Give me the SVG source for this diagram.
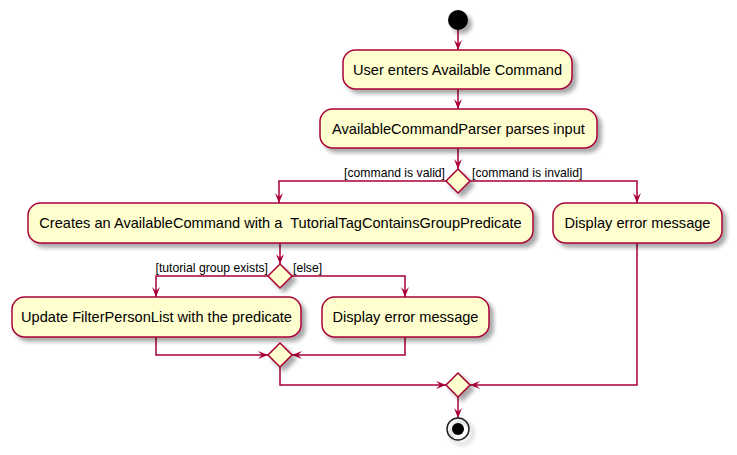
<svg xmlns="http://www.w3.org/2000/svg" width="737" height="455" viewBox="0 0 737 455">
<style>
.box{fill:#FEFECE;stroke:#A80036;stroke-width:1.5;filter:url(#sh)}
.dia{fill:#FEFECE;stroke:#A80036;stroke-width:1.5;filter:url(#sh)}
.t{font-family:"Liberation Sans",Arial,sans-serif;font-size:14.6px;fill:#000;text-anchor:middle;white-space:pre}
.l{font-family:"Liberation Sans",Arial,sans-serif;font-size:12.2px;fill:#000}
.c{fill:none;stroke:#A80036;stroke-width:1.5;marker-end:url(#ah)}
</style>
<defs>
<filter id="sh" x="-20%" y="-20%" width="150%" height="160%">
<feGaussianBlur in="SourceAlpha" stdDeviation="2"/>
<feOffset dx="4" dy="4" result="b"/>
<feComponentTransfer><feFuncA type="linear" slope="0.35"/></feComponentTransfer>
<feMerge><feMergeNode/><feMergeNode in="SourceGraphic"/></feMerge>
</filter>
<marker id="ah" viewBox="0 0 10 8" refX="10" refY="4" markerWidth="10" markerHeight="8" markerUnits="userSpaceOnUse" orient="auto">
<path d="M0,0 L10,4 L0,8 L4,4 Z" fill="#A80036"/>
</marker>
</defs>
<g id="connectors">
<path class="c" d="M458,30 V50"/>
<path class="c" d="M458,89 V109"/>
<path class="c" d="M458,148 V169"/>
<path class="c" d="M446,181 H279 V203"/>
<path class="c" d="M470,181 H637 V203"/>
<path class="c" d="M280,243 V264"/>
<path class="c" d="M268,276 H156 V297"/>
<path class="c" d="M292,276 H405 V297"/>
<path class="c" d="M156,337 V355 H268"/>
<path class="c" d="M405,337 V355 H292"/>
<path class="c" d="M280,367 V385 H446"/>
<path class="c" d="M637,243 V385 H470"/>
<path class="c" d="M458,397 V418"/>
</g>
<g id="start"><circle cx="458" cy="20" r="10" fill="#000" filter="url(#sh)"/></g>
<g id="n1"><rect class="box" x="343" y="50" width="229" height="39" rx="12.5"/><text class="t" x="457.5" y="75">User enters Available Command</text></g>
<g id="n2"><rect class="box" x="320" y="109" width="277" height="39" rx="12.5"/><text class="t" x="458.5" y="134">AvailableCommandParser parses input</text></g>
<g id="d1"><polygon class="dia" points="458,169 470,181 458,193 446,181"/></g>
<text class="l" x="445" y="177" text-anchor="end">[command is valid]</text>
<text class="l" x="472" y="177">[command is invalid]</text>
<g id="n3"><rect class="box" x="28" y="203" width="505" height="40" rx="12.5"/><text class="t" x="280.5" y="228">Creates an AvailableCommand with a  TutorialTagContainsGroupPredicate</text></g>
<g id="n4"><rect class="box" x="553" y="203" width="169" height="40" rx="12.5"/><text class="t" x="637.5" y="228">Display error message</text></g>
<g id="d2"><polygon class="dia" points="280,264 292,276 280,288 268,276"/></g>
<text class="l" x="268" y="272" text-anchor="end">[tutorial group exists]</text>
<text class="l" x="293" y="272">[else]</text>
<g id="n5"><rect class="box" x="12" y="297" width="289" height="40" rx="12.5"/><text class="t" x="156.5" y="322">Update FilterPersonList with the predicate</text></g>
<g id="n6"><rect class="box" x="322" y="297" width="167" height="40" rx="12.5"/><text class="t" x="405.5" y="322">Display error message</text></g>
<g id="d3"><polygon class="dia" points="280,343 292,355 280,367 268,355"/></g>
<g id="d4"><polygon class="dia" points="458,373 470,385 458,397 446,385"/></g>
<g id="end"><circle cx="458" cy="429" r="11" fill="none" stroke="#222" stroke-width="1.5" filter="url(#sh)"/><circle cx="458" cy="429" r="6" fill="#000"/></g>
</svg>
